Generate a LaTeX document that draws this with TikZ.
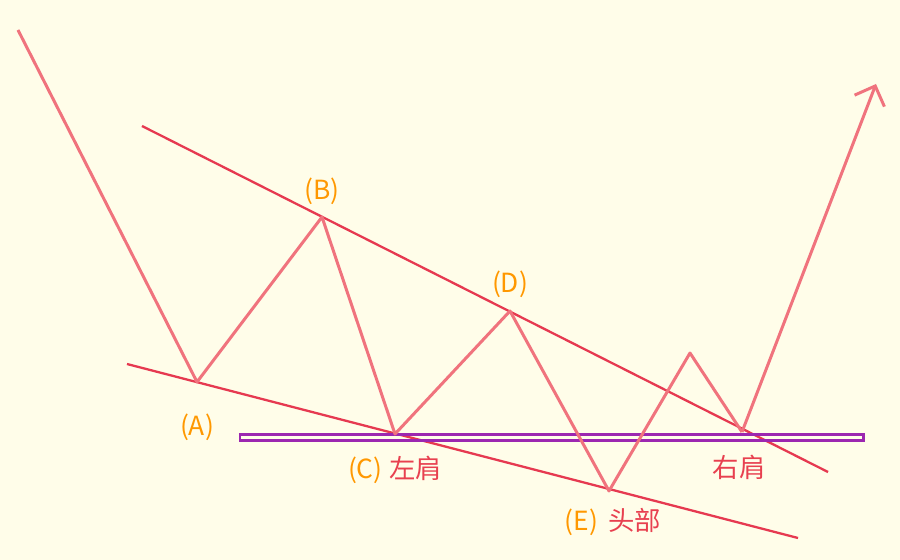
\documentclass[tikz,border=0pt]{standalone}
\usepackage{fontspec}
\setmainfont{Noto Sans CJK SC}
\usepackage{tikz}
\usetikzlibrary{positioning,arrows.meta}

\definecolor{sfondo}{HTML}{FFFDE9}
\definecolor{prezzo}{HTML}{F0737D}
\definecolor{trend}{HTML}{E63950}
\definecolor{collo}{HTML}{9C27B0}
\definecolor{lettera}{HTML}{FF9800}
\definecolor{spalla}{HTML}{E8404F}

\tikzset{
  prezzo/.style={draw=prezzo, line width=1.7pt, line join=round},
  trend/.style={draw=trend, line width=1.3pt},
  etichetta/.style={text=lettera, font=\fontsize{15}{17}\selectfont, inner sep=1pt},
  spalla/.style={text=spalla, font=\fontsize{15}{17}\selectfont, inner sep=1pt}
}

\begin{document}
\begin{tikzpicture}[x=0.02cm, y=-0.02cm]
  % sfondo
  \fill[sfondo] (0,0) rectangle (900,560);
  \useasboundingbox (0,0) rectangle (900,560);

  % punti principali
  \coordinate (start) at (18,30);
  \coordinate (A) at (197,382);
  \coordinate (B) at (322,217);
  \coordinate (C) at (395,434);
  \coordinate (D) at (510,311);
  \coordinate (E) at (609,491);
  \coordinate (F) at (690,353);
  \coordinate (RS) at (742,432);
  \coordinate (tip) at (876,84);

  % linee di tendenza
  \coordinate (up1) at (142,126);
  \coordinate (up2) at (828,472);
  \coordinate (lo1) at (127,364);
  \coordinate (lo2) at (798,538);
  \draw[trend] (up1) -- (up2);
  \draw[trend] (lo1) -- (lo2);

  % linea del collo
  \coordinate (n1) at (240,434.7);
  \coordinate (n2) at (863,440.2);
  \draw[collo, line width=1.7pt] (n1) rectangle (n2);

  % prezzo
  \draw[prezzo] (start) -- (A) -- (B) -- (C) -- (D) -- (E) -- (F) -- (RS);
  \draw[prezzo, -{Straight Barb[length=0.32cm, width=0.64cm]}] (RS) -- (tip);

  % etichette
  \node[etichetta, below=0.6cm of A] (lA) {(A)};
  \node[etichetta, above=0.2cm of B] (lB) {(B)};
  \node[etichetta, above=0.22cm of D] (lD) {(D)};
  \node[spalla, below=0.4cm of C] (lC) {\textcolor{lettera}{(C)}\hspace{0.25em}左肩};
  \node[spalla, below=0.3cm of E, xshift=0.08cm] (lE) {\textcolor{lettera}{(E)}\hspace{0.4em}头部};
  \node[spalla, below=0.42cm of RS, xshift=-0.06cm] (lRS) {右肩};
\end{tikzpicture}
\end{document}
